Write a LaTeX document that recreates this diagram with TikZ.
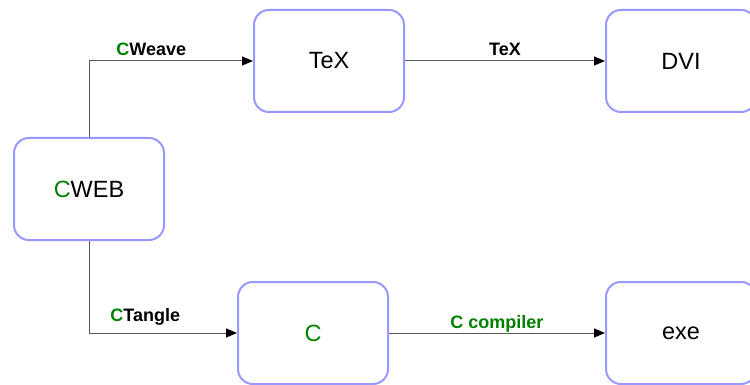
\documentclass[tikz,border=0pt]{standalone}
\usepackage{xcolor}
\usepackage{fontspec}
\setmainfont{Liberation Sans}
\usepackage{tikz}
\usetikzlibrary{arrows.meta,positioning,calc}

\definecolor{boxblue}{RGB}{153,153,255}
\definecolor{cgreen}{RGB}{0,128,0}

\begin{document}
\begin{tikzpicture}[
    x=1pt, y=-1pt,
    stage/.style={rectangle, draw=boxblue, line width=2pt, rounded corners=15pt, minimum width=150pt, minimum height=102pt, font=\fontsize{23.5}{27}\selectfont},
    dataflow/.style={-{Triangle[length=11pt,width=9pt,color=black]}, draw=black!65, line width=1pt},
    tool/.style={anchor=base, yshift=5pt, font=\fontsize{18}{21}\selectfont\bfseries}
]
\clip (0,0) rectangle (750,385);
\useasboundingbox (0,0) rectangle (750,385);

\node[stage] (cweb) at (89,189) {\textcolor{cgreen}{C}WEB};
\node[stage] (tex) at (329,61) {TeX};
\node[stage] (dvi) at (681,61) {DVI};
\node[stage] (c) at (313,333) {\textcolor{cgreen}{C}};
\node[stage] (exe) at (681,333) {exe};

\draw[dataflow] (cweb.north) |- node[tool, pos=0.69] {\textcolor{cgreen}{C}Weave} (tex.west);
\draw[dataflow] (tex) -- node[tool] {TeX} (dvi);
\draw[dataflow] (cweb.south) |- node[tool, pos=0.69, yshift=7pt] {\textcolor{cgreen}{C}Tangle} (c.west);
\draw[dataflow] (c) -- node[tool, text=cgreen] {C compiler} (exe);

\end{tikzpicture}
\end{document}
